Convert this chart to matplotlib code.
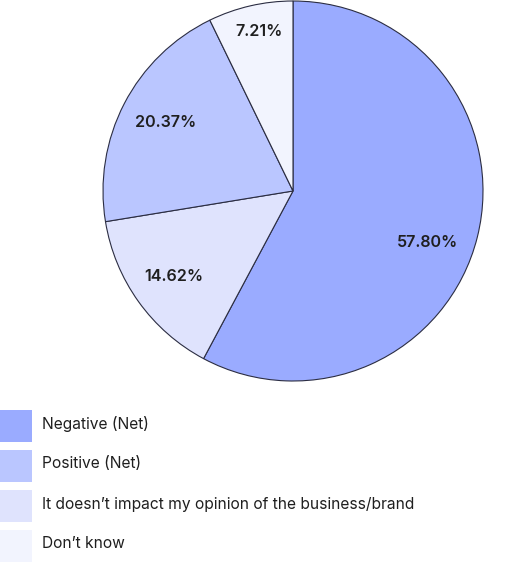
import numpy as np
import matplotlib.pyplot as plt
from matplotlib.patches import Rectangle

plt.rcParams['font.family'] = ['Inter', 'DejaVu Sans']

# data (clockwise from 12 o'clock)
pie_labels = ["Negative (Net)", "It doesn't impact my opinion of the business/brand",
              "Positive (Net)", "Don't know"]
pie_values = [57.80, 14.62, 20.37, 7.21]
pie_colors = ["#9aabff", "#dfe3fd", "#bac6ff", "#f2f4fe"]

# legend order
legend_labels = ["Negative (Net)", "Positive (Net)",
                 "It doesn\u2019t impact my opinion of the business/brand", "Don\u2019t know"]
legend_colors = ["#9aabff", "#bac6ff", "#dfe3fd", "#f2f4fe"]

label_dist = [0.76, 0.77, 0.76, 0.86]   # how far out each % label sits
label_turn = [-7, 0, -1, -1]            # small angle nudge (deg)

W, H = 515, 562
fig = plt.figure(figsize=(W / 100, H / 100), dpi=100)

cx, cy, r = 293, 191, 190
ax = fig.add_axes([(cx - r) / W, (H - cy - r) / H, 2 * r / W, 2 * r / H])

wedges, _ = ax.pie(pie_values, colors=pie_colors, startangle=90, counterclock=False,
                   radius=1, wedgeprops=dict(edgecolor="#2b2d42", linewidth=0.8))

for w, v, d, t in zip(wedges, pie_values, label_dist, label_turn):
    mid = np.deg2rad((w.theta1 + w.theta2) / 2 + t)
    ax.text(d * np.cos(mid), d * np.sin(mid), f"{v:.2f}%", ha="center", va="center",
            fontsize=11.6, fontweight=600, color="#1f1f1f")

ax.set_xlim(-1, 1)
ax.set_ylim(-1, 1)
ax.set_aspect("equal")
ax.axis("off")

# legend drawn by hand: 32px swatches, 40px pitch
for i, (lab, col) in enumerate(zip(legend_labels, legend_colors)):
    top = 410 + i * 40
    fig.patches.append(Rectangle((0, 1 - (top + 32) / H), 32 / W, 32 / H,
                                 transform=fig.transFigure, facecolor=col, edgecolor="none"))
    fig.text(42 / W, 1 - (top + 14) / H, lab, ha="left", va="center",
             fontsize=11.2, color="#1f1f1f")

fig.savefig("out.png", dpi=100)
